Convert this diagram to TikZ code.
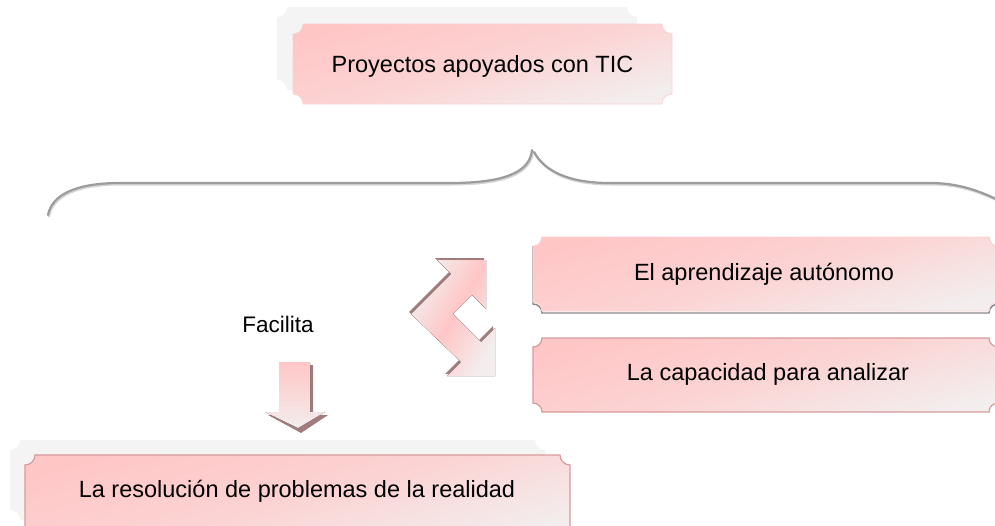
\documentclass[tikz,border=0pt]{standalone}
\usepackage{fontspec}
\setmainfont{Liberation Sans}
\begin{document}
\begin{tikzpicture}[x=1pt,y=-1pt,
  ghost/.style={fill=ghostgray,draw=none},
  pinkfill/.style={shading=axis,top color=pinkA,bottom color=pinkC,middle color=pinkB,shading angle=15},
  lbl/.style={font=\fontsize{23.5}{26}\selectfont,text=black,inner sep=0pt},
  bracestyle/.style={draw=bracegray,line width=2.2pt,line cap=round},
  braceshadow/.style={draw=braceshade,line width=2pt,line cap=round}]
\definecolor{ghostgray}{HTML}{F4F4F4}
\definecolor{pinkA}{HTML}{FFC6C6}
\definecolor{pinkB}{HTML}{FCD3D3}
\definecolor{pinkC}{HTML}{F3EDED}
\definecolor{rosedraw}{HTML}{D99A9A}
\definecolor{bracegray}{HTML}{9C9C9C}
\definecolor{braceshade}{HTML}{D4D4D4}
\definecolor{arrowshadow}{HTML}{A07C7C}
\definecolor{boxshadow}{HTML}{8C8686}
\newcommand\scoopbox[6]{%
 \path[#1] ({#2+#6},#3) -- ({#4-#6},#3)
  .. controls ({#4-#6},{#3+0.55*#6}) and ({#4-0.55*#6},{#3+#6}) .. (#4,{#3+#6})
  -- (#4,{#5-#6})
  .. controls ({#4-0.55*#6},{#5-#6}) and ({#4-#6},{#5-0.55*#6}) .. ({#4-#6},#5)
  -- ({#2+#6},#5)
  .. controls ({#2+#6},{#5-0.55*#6}) and ({#2+0.55*#6},{#5-#6}) .. (#2,{#5-#6})
  -- (#2,{#3+#6})
  .. controls ({#2+0.55*#6},{#3+#6}) and ({#2+#6},{#3+0.55*#6}) .. ({#2+#6},#3) -- cycle;}
\useasboundingbox (0,0) rectangle (995,525);
\begin{scope}
\clip (0,0) rectangle (995,525);
% top box
\scoopbox{ghost}{277}{7}{637}{90}{10}
\scoopbox{pinkfill,draw=pinkB,line width=0.8pt}{293}{24}{672}{104}{10}
\node[lbl] (top) at (482.5,66) {Proyectos apoyados con TIC};
% brace
\begin{scope}[yshift=-1.5pt,xshift=1pt]
\draw[braceshadow] (48,215) .. controls (52,195) and (75,183) .. (120,183) -- (450,183) .. controls (505,183) and (530,172) .. (532,150);
\draw[braceshadow] (534,152) .. controls (545,172) and (570,183) .. (610,183) -- (930,183) .. controls (955,183) and (975,189) .. (996,199);
\end{scope}
\draw[bracestyle] (48,215) .. controls (52,195) and (75,183) .. (120,183) -- (450,183) .. controls (505,183) and (530,172) .. (532,150);
\draw[bracestyle] (534,152) .. controls (545,172) and (570,183) .. (610,183) -- (930,183) .. controls (955,183) and (975,189) .. (996,199);
% right boxes
\scoopbox{draw=boxshadow,line width=1.4pt}{533}{238}{998}{313}{9}
\scoopbox{pinkfill,draw=pinkB,line width=0.8pt}{533}{237}{998}{311}{9}
\node[lbl] (auto) at (764,274) {El aprendizaje autónomo};
\scoopbox{pinkfill,draw=rosedraw,line width=1.2pt}{533}{338}{998}{412}{9}
\node[lbl] (anal) at (768,374) {La capacidad para analizar};
% bottom box
\scoopbox{ghost}{10}{440}{545}{520}{10}
\scoopbox{pinkfill,draw=rosedraw,line width=1.2pt}{25}{455}{570}{540}{10}
\node[lbl] (reso) at (297,491) {La resolución de problemas de la realidad};
% Facilita
\node[lbl,font=\fontsize{22.5}{25}\selectfont] (fac) at (278,324) {Facilita};
% down arrow
\fill[arrowshadow] (282,365) -- (313,365) -- (313,415) -- (328,415) -- (301,433) -- (268,415) -- (282,415) -- cycle;
\fill[shading=axis,left color=pinkA,right color=pinkC,shading angle=0] (279,362) -- (310,362) -- (310,412) -- (325,412) -- (298,428) -- (265,412) -- (279,412) -- cycle;
% double bent arrow
\fill[arrowshadow,xshift=-2pt,yshift=2pt] (411,314) -- (451,274) -- (437,260) -- (486,260) -- (486,309) -- (472,295) -- (453,314) -- (481,342) -- (495,328) -- (495,376) -- (447,376) -- (461,362) -- cycle;
\fill[shading=axis,top color=pinkC,bottom color=pinkC,middle color=pinkA,shading angle=60] (411,314) -- (451,274) -- (437,260) -- (486,260) -- (486,309) -- (472,295) -- (453,314) -- (481,342) -- (495,328) -- (495,376) -- (447,376) -- (461,362) -- cycle;
\end{scope}
\end{tikzpicture}
\end{document}
